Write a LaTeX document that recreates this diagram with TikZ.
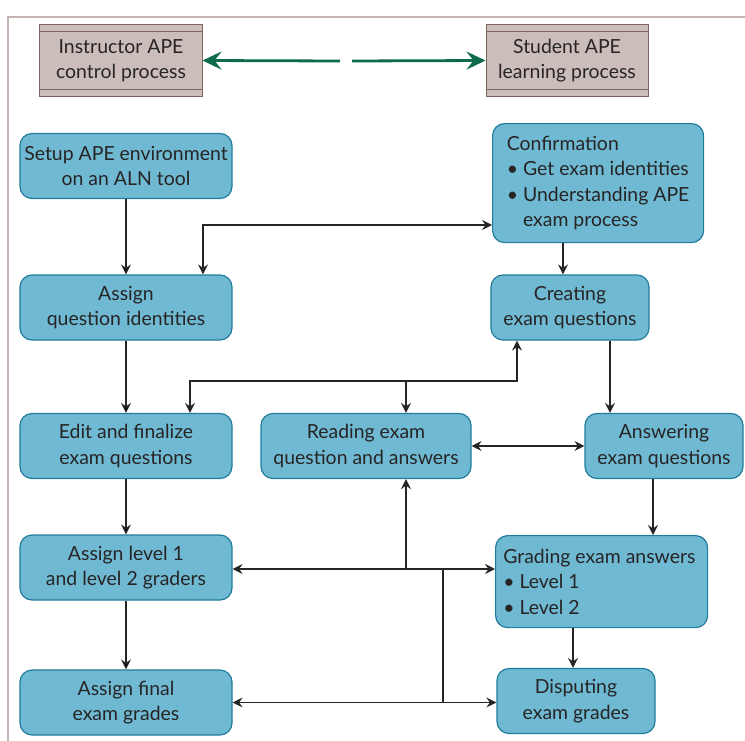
\documentclass[tikz,border=0pt]{standalone}
\usepackage{fontspec}
\setmainfont{Lato}
\usetikzlibrary{arrows.meta,positioning}

\definecolor{boxfill}{HTML}{70B9D2}
\definecolor{boxline}{HTML}{1F7C9B}
\definecolor{procfill}{HTML}{CBBDBA}
\definecolor{procline}{HTML}{7E6462}
\definecolor{framecol}{HTML}{C6B4B2}
\definecolor{greenarr}{HTML}{0D6B4B}
\definecolor{ink}{HTML}{262425}

\begin{document}
\begin{tikzpicture}[x=1bp,y=-1bp,
      >={Stealth[length=10bp,width=10bp,inset=3.5bp]},
      every node/.style={font=\fontsize{19.5}{25.5}\selectfont, text=ink},
      task/.style={draw=boxline, fill=boxfill, rounded corners=12bp, line width=1.2bp,
        minimum height=65bp, align=center, inner sep=0pt},
      listtask/.style={task, align=left, anchor=north west},
      proc/.style={draw=procline, fill=procfill, line width=1bp,
        minimum width=162bp, minimum height=71bp, align=center, inner sep=0pt},
      link/.style={draw=ink, line width=1.2bp},
      garrow/.style={draw=greenarr, line width=2.8bp, -{Stealth[length=19bp,width=18bp,inset=7bp]}}]
    \useasboundingbox (0,0) rectangle (745,741);
    \draw[framecol, line width=1.5bp] (8,741) -- (8,17) -- (745,17);

    \node[proc] (instr) at (121,60.5) {Instructor APE\\control process};
    \node[proc] (student) at (567,60.5) {Student APE\\learning process};
    \foreach \p in {instr,student} {
      \draw[procline, line width=1bp] ([yshift=-7bp]\p.north west) -- ([yshift=-7bp]\p.north east);
      \draw[procline, line width=1bp] ([yshift=7bp]\p.south west) -- ([yshift=7bp]\p.south east);
    }
    \coordinate (gl) at (340,61);
    \coordinate (gr) at (352,61);
    \draw[garrow] (gl) -- (instr.east);
    \draw[garrow] (gr) -- (student.west);

    \node[task, minimum width=212bp] (setup) at (126,166) {Setup APE environment\\on an ALN tool};
    \node[task, minimum width=212bp] (assignq) at (126,307.5) {Assign\\question identities};
    \node[task, minimum width=212bp] (edit) at (126,446) {Edit and finalize\\exam questions};
    \node[task, minimum width=212bp] (level) at (126,567.5) {Assign level 1\\and level 2 graders};
    \node[task, minimum width=212bp] (final) at (126,702.5) {Assign final\\exam grades};

    \node[listtask, minimum width=211bp, minimum height=119bp] (confirm) at (492,123)
      {Confirmation\\\textbullet\ Get exam identities\\\textbullet\ Understanding APE\\\hphantom{\textbullet\ }exam process};
    \node[task, minimum width=158bp] (create) at (570,307.5) {Creating\\exam questions};
    \node[task, minimum width=210bp] (reading) at (366,446) {Reading exam\\question and answers};
    \node[task, minimum width=158bp] (answer) at (664,446) {Answering\\exam questions};
    \node[listtask, minimum width=212bp, minimum height=92bp] (grading) at (495,535)
      {Grading exam answers\\\textbullet\ Level 1\\\textbullet\ Level 2\hphantom{exam answers}};
    \node[task, minimum width=158bp] (dispute) at (576,701) {Disputing\\exam grades};

    \coordinate (c1) at (203,225);
    \coordinate (c2) at (563,0);
    \coordinate (c3) at (610,0);
    \coordinate (c4) at (653,0);
    \coordinate (c5) at (573,0);
    \coordinate (b1) at (406,381);
    \coordinate (b2) at (406,569);
    \coordinate (b3) at (443,569);
    \coordinate (e1) at (190,0);
    \coordinate (e2) at (517,0);

    \path[link,->] (setup) edge (assignq)
                   (assignq) edge (edit)
                   (edit) edge (level)
                   (level) edge (final);
    \draw[link,<->] (assignq.north -| c1) -- (c1) -- (c1 -| confirm.west);
    \draw[link,->] (c2 |- confirm.south) -- (c2 |- create.north);
    \draw[link,->] (c3 |- create.south) -- (c3 |- answer.north);
    \draw[link,<->] (e1 |- edit.north) |- (b1) -| (e2 |- create.south);
    \draw[link,->] (b1) -- (b1 |- reading.north);
    \draw[link,<->] (reading.east) -- (answer.west);
    \draw[link,->] (c4 |- answer.south) -- (c4 |- grading.north);
    \draw[link,->] (c5 |- grading.south) -- (c5 |- dispute.north);
    \draw[link,<->] (level.east |- b2) -- (b2 -| grading.west);
    \draw[link,->] (b2) -- (b2 |- reading.south);
    \draw[link] (b3) -- (b3 |- final.east);
    \draw[link,<->] (final.east) -- (final.east -| dispute.west);
\end{tikzpicture}
\end{document}
